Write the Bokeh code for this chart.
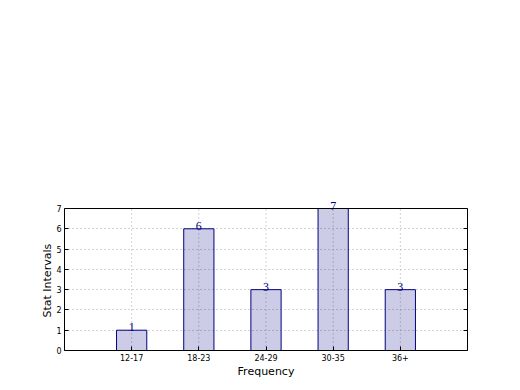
from bokeh.plotting import figure
from bokeh.models import ColumnDataSource, LabelSet, FixedTicker, LinearAxis, Span, Title
from bokeh.embed import file_html
from bokeh.resources import INLINE

categories = ["12-17", "18-23", "24-29", "30-35", "36+"]
values = [1, 6, 3, 7, 3]
y_ticks = [0, 1, 2, 3, 4, 5, 6, 7]
positions = list(range(len(categories)))

src = ColumnDataSource(dict(x=positions, top=values, label=[str(v) for v in values]))

ytop = y_ticks[-1]
extra_px = 14
frame_px = 142
y_end = ytop * (frame_px + extra_px) / frame_px

p = figure(width=512, height=382, output_backend="svg", toolbar_location=None,
           x_range=(-1, 5), y_range=(0, y_end),
           min_border_left=64, min_border_right=45, min_border_top=208 - extra_px,
           min_border_bottom=32)
p.background_fill_color = "white"
p.border_fill_color = "white"
p.outline_line_color = None

# grid
p.xgrid.visible = False
p.ygrid.ticker = FixedTicker(ticks=y_ticks)
p.ygrid.grid_line_color = "#a8a8a8"
p.ygrid.grid_line_dash = "1 3"
p.segment(x0=positions, y0=[0] * len(positions), x1=positions, y1=[ytop] * len(positions),
          line_color="#a8a8a8", line_dash="1 3", line_width=1)

p.vbar(x="x", top="top", width=0.45, bottom=0, source=src,
       fill_color="navy", fill_alpha=0.2, line_color="navy", line_width=1)

# box top
p.add_layout(Span(location=ytop, dimension="width", line_color="black", line_width=1))

labels = LabelSet(x="x", y="top", text="label", source=src, text_align="center",
                  text_baseline="middle", y_offset=3, text_color="navy",
                  text_font="DejaVu Sans", text_font_size="12px")
p.add_layout(labels)

left = p.yaxis[0]
bottom = p.xaxis[0]
bottom.ticker = FixedTicker(ticks=positions)
bottom.major_label_overrides = {i: c for i, c in enumerate(categories)}
left.ticker = FixedTicker(ticks=y_ticks)
left.bounds = (0, ytop)

right = LinearAxis(ticker=FixedTicker(ticks=y_ticks), bounds=(0, ytop))
right.major_label_overrides = {t: "" for t in y_ticks}
right.major_label_standoff = 0
p.add_layout(right, "right")

for ax in (bottom, left, right):
    ax.major_tick_in = 4
    ax.major_tick_out = 0
    ax.major_tick_line_color = "black"
    ax.minor_tick_line_color = None
    ax.axis_line_color = "black"
    ax.major_label_text_font = "DejaVu Sans"
    ax.major_label_text_color = "black"
for ax in (bottom, left):
    ax.major_label_text_font_size = "8px"
    ax.major_label_standoff = 3
bottom.axis_label = "Frequency"
bottom.axis_label_standoff = 1
bottom.axis_label_text_font = "DejaVu Sans"
bottom.axis_label_text_font_size = "11px"
bottom.axis_label_text_font_style = "normal"
bottom.axis_label_text_color = "black"

ytitle = Title(text="Stat Intervals", align="left", offset=33,
               text_font="DejaVu Sans", text_font_size="11px",
               text_font_style="normal", text_color="black", standoff=0)
p.add_layout(ytitle, "left")

out = file_html(p, INLINE)
open("out.html", "w").write(out)
